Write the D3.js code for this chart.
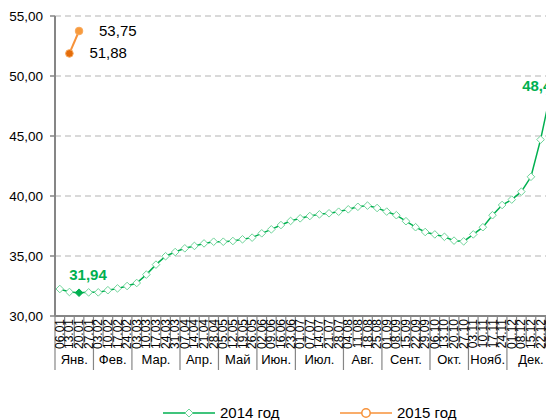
<!DOCTYPE html>
<html>
<head>
<meta charset="utf-8">
<script src="https://cdn.jsdelivr.net/npm/d3@7"></script>
<style>
  body { margin: 0; background: #fff; }
  svg { display: block; font-family: Arial, "Liberation Sans", sans-serif; }
</style>
</head>
<body>
<svg id="chart" width="546" height="420"></svg>
<script>
// weekly dates (2014), month groups and values
var dates = [
  "06.01","13.01","20.01","27.01",
  "03.02","10.02","17.02","24.02",
  "03.03","10.03","17.03","24.03","31.03",
  "07.04","14.04","21.04","28.04",
  "05.05","12.05","19.05","26.05",
  "02.06","09.06","16.06","23.06",
  "01.07","07.07","14.07","21.07","28.07",
  "04.08","11.08","18.08","25.08",
  "01.09","08.09","15.09","22.09","29.09",
  "06.10","13.10","20.10","27.10",
  "03.11","10.11","17.11","24.11",
  "01.12","08.12","15.12","22.12","29.12"
];
var months = ["Янв.","Фев.","Мар.","Апр.","Май","Июн.","Июл.","Авг.","Сент.","Окт.","Нояб.","Дек."];
var monthCounts = [4,4,5,4,4,4,5,4,5,4,4,5];

var values2014 = [
  32.25, 32.00, 31.94, 31.97, 31.97, 32.15, 32.30, 32.50, 32.75, 33.45,
  34.28, 34.98, 35.33, 35.64, 35.84, 36.05, 36.19, 36.19, 36.25, 36.39,
  36.53, 36.89, 37.22, 37.58, 37.92, 38.14, 38.33, 38.47, 38.56, 38.69,
  38.89, 39.10, 39.20, 39.00, 38.70, 38.40, 37.90, 37.40, 37.00, 36.80,
  36.60, 36.28, 36.22, 36.80, 37.40, 38.40, 39.25, 39.70, 40.36, 41.60,
  44.70, 48.45
];
var values2015 = [null, 51.88, 53.75];

var yTicks = [30, 35, 40, 45, 50, 55];

var green = "#00b050", greenMarker = "#6fd49a", orange = "#f7923a";
var fmt = function(v) { return d3.format(".2f")(v).replace(".", ","); };

var svg = d3.select("#chart");

var x = d3.scaleBand().domain(d3.range(dates.length)).range([55, 555]).padding(0);
var y = d3.scaleLinear().domain([30, 55]).range([316, 16]);
var cx = function(i) { return x(i) + x.bandwidth() / 2; };

// grid
svg.append("g").selectAll("line")
    .data(yTicks.slice(1))
  .enter().append("line")
    .attr("x1", 55).attr("x2", 546)
    .attr("y1", function(d) { return y(d); })
    .attr("y2", function(d) { return y(d); })
    .style("stroke", "#d9d9d9").style("stroke-width", 2)
    .style("stroke-dasharray", "6,4");

// y axis
svg.append("line").attr("x1", 55).attr("x2", 55).attr("y1", y(55)).attr("y2", y(30))
    .style("stroke", "#868686").style("stroke-width", 2);
svg.append("g").selectAll("line")
    .data(yTicks)
  .enter().append("line")
    .attr("x1", 50).attr("x2", 55)
    .attr("y1", function(d) { return y(d); })
    .attr("y2", function(d) { return y(d); })
    .style("stroke", "#868686").style("stroke-width", 1.5);
svg.append("g").selectAll("text")
    .data(yTicks)
  .enter().append("text")
    .attr("x", 43)
    .attr("y", function(d) { return y(d) + 5; })
    .attr("text-anchor", "end")
    .style("font-size", "13.5px")
    .text(fmt);

// x axis: ticks, date labels, month groups
var bounds = [0];
monthCounts.forEach(function(c, i) { bounds.push(bounds[i] + c); });

svg.append("g").selectAll("line")
    .data(d3.range(dates.length + 1))
  .enter().append("line")
    .attr("x1", function(i) { return x(0) + i * x.bandwidth(); })
    .attr("x2", function(i) { return x(0) + i * x.bandwidth(); })
    .attr("y1", 316)
    .attr("y2", function(i) { return bounds.indexOf(i) >= 0 ? 370 : 346; })
    .style("stroke", "#868686").style("stroke-width", 1.2);

svg.append("g").selectAll("text")
    .data(dates)
  .enter().append("text")
    .attr("transform", function(d, i) {
      return "translate(" + (cx(i) + 4) + ",319) rotate(-90)";
    })
    .attr("text-anchor", "end")
    .style("font-size", "12px")
    .text(function(d) { return d; });

svg.append("g").selectAll("text")
    .data(months)
  .enter().append("text")
    .attr("x", function(d, i) {
      return x(0) + (bounds[i] + bounds[i + 1]) / 2 * x.bandwidth();
    })
    .attr("y", 364)
    .attr("text-anchor", "middle")
    .style("font-size", "13px")
    .text(function(d) { return d; });

svg.append("line").attr("x1", 55).attr("x2", 546).attr("y1", 316).attr("y2", 316)
    .style("stroke", "#868686").style("stroke-width", 2);

// 2014 series
var line = d3.line()
    .defined(function(d) { return d != null; })
    .x(function(d, i) { return cx(i); })
    .y(function(d) { return y(d); });

svg.append("path").datum(values2014)
    .attr("d", line)
    .style("fill", "none").style("stroke", green).style("stroke-width", 1.5);

var diamond = function(r) {
  return "M0," + (-r) + "L" + r + ",0L0," + r + "L" + (-r) + ",0Z";
};
var minIdx = d3.minIndex(values2014);

svg.append("g").selectAll("path")
    .data(values2014)
  .enter().append("path")
    .attr("transform", function(d, i) { return "translate(" + cx(i) + "," + y(d) + ")"; })
    .attr("d", diamond(3.8))
    .style("fill", function(d, i) { return i == minIdx ? green : "#fff"; })
    .style("stroke", function(d, i) { return i == minIdx ? green : greenMarker; })
    .style("stroke-width", 1);

svg.append("text")
    .attr("x", cx(minIdx) + 9).attr("y", y(values2014[minIdx]) - 13)
    .attr("text-anchor", "middle")
    .style("font-size", "15px").style("font-weight", "bold").style("fill", green)
    .text(fmt(values2014[minIdx]));

var last = values2014.length - 1;
svg.append("text")
    .attr("x", cx(last) - 28).attr("y", y(values2014[last]) - 4)
    .style("font-size", "15px").style("font-weight", "bold").style("fill", green)
    .text(fmt(values2014[last]));

// 2015 series
svg.append("path").datum(values2015)
    .attr("d", line)
    .style("fill", "none").style("stroke", orange).style("stroke-width", 2);

svg.append("g").selectAll("circle")
    .data(values2015.map(function(v, i) { return {v: v, i: i}; }).filter(function(d) { return d.v != null; }))
  .enter().append("circle")
    .attr("cx", function(d) { return cx(d.i); })
    .attr("cy", function(d) { return y(d.v); })
    .attr("r", 3.8)
    .style("fill", function(d, k) { return k == 0 ? "#e46c0a" : "#f79a3c"; })
    .style("stroke", "#f8a85a").style("stroke-width", 1);

svg.append("g").selectAll("text")
    .data(values2015.map(function(v, i) { return {v: v, i: i}; }).filter(function(d) { return d.v != null; }))
  .enter().append("text")
    .attr("x", function(d) { return cx(d.i) + 20; })
    .attr("y", function(d) { return y(d.v) + 5; })
    .style("font-size", "15px")
    .text(function(d) { return fmt(d.v); });

// legend
var legend = [
  {name: "2014 год", color: green, x: 163},
  {name: "2015 год", color: orange, x: 340}
];
var lg = svg.append("g").selectAll("g")
    .data(legend)
  .enter().append("g")
    .attr("transform", function(d) { return "translate(" + d.x + ",413)"; });
lg.append("line").attr("x1", 0).attr("x2", 52)
    .style("stroke", function(d) { return d.color; }).style("stroke-width", 1.5);
lg.filter(function(d, i) { return i == 0; }).append("path")
    .attr("transform", "translate(26,0)")
    .attr("d", diamond(4))
    .style("fill", "#fff").style("stroke", greenMarker);
lg.filter(function(d, i) { return i == 1; }).append("circle")
    .attr("cx", 26).attr("r", 4.2)
    .style("fill", "#fff").style("stroke", orange).style("stroke-width", 1.5);
lg.append("text").attr("x", 57).attr("y", 5)
    .style("font-size", "15px")
    .text(function(d) { return d.name; });
</script>
</body>
</html>
